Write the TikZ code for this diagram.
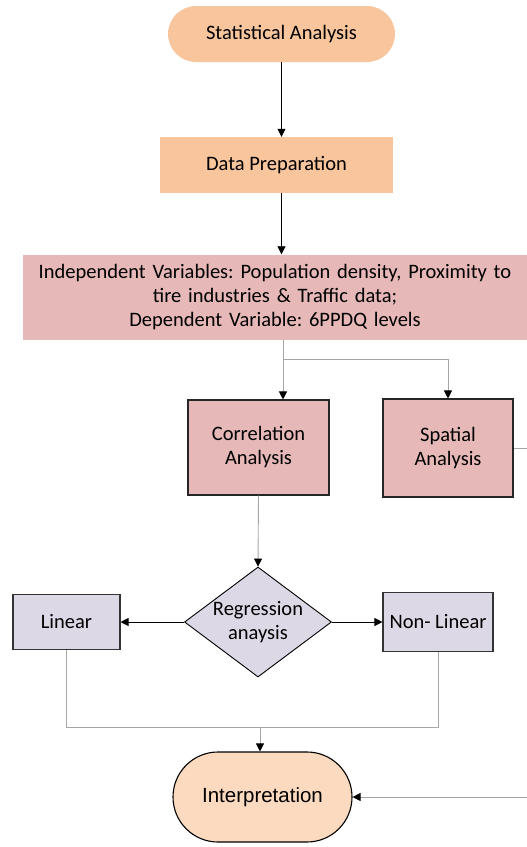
\documentclass[tikz,border=0pt]{standalone}
\usepackage{fontspec}
\setmainfont{Carlito}
\newfontfamily\arialf{Liberation Sans}
\usetikzlibrary{shapes.geometric,arrows.meta}
\frenchspacing
\definecolor{peach}{HTML}{F8C59D}
\definecolor{peachlight}{HTML}{FBDABF}
\definecolor{rose}{HTML}{E6B9B8}
\definecolor{lav}{HTML}{DDD8E6}
\definecolor{conn}{HTML}{A6A6A6}
\tikzset{
  base/.style={font=\fontsize{20.5}{24}\selectfont, align=center, inner sep=0pt},
  pill/.style={base, fill=peach, rounded corners=28, minimum width=227, minimum height=56},
  prep/.style={base, fill=peach, minimum width=233, minimum height=56},
  vars/.style={base, fill=rose, minimum width=504, minimum height=85, text width=500},
  anbox/.style={base, fill=rose, draw=black!85, line width=1.1, minimum height=96},
  regbox/.style={base, fill=lav, draw=black!80, line width=1.1},
  decide/.style={base, diamond, fill=lav, draw=black, line width=0.9, minimum width=147, minimum height=110, aspect=1.336},
  endpill/.style={font=\arialf\fontsize{20.5}{24}\selectfont, fill=peachlight, draw=black, line width=1.1, rounded corners=45, minimum width=179, minimum height=90, inner sep=0pt},
  blk/.style={draw=black, line width=0.8, -{Triangle[length=8,width=8]}},
  gry/.style={draw=conn, line width=0.9},
  gryarr/.style={draw=conn, line width=0.9, -{Triangle[length=8,width=8,fill=black,color=black]}},
}
\begin{document}
\begin{tikzpicture}[x=1pt,y=-1pt]
\useasboundingbox (0,0) rectangle (527,847);
\node[pill] (sa) at (281.5,34) {Statistical Analysis};
\node[prep] (dp) at (276.5,165) {Data Preparation};
\node[vars] (iv) at (275,297) {Independent Variables: Population density, Proximity to\\ tire industries \& Traffic data;\\ Dependent Variable: 6PPDQ levels};
\node[anbox, minimum width=141, minimum height=95] (ca) at (258.5,447.5) {Correlation\\Analysis};
\node[anbox, minimum width=130, minimum height=98] (sp) at (448,448) {Spatial\\Analysis};
\node[decide] (ra) at (258,622) {Regression\\anaysis};
\node[regbox, minimum width=107, minimum height=55] (li) at (66.5,622) {Linear};
\node[regbox, minimum width=110, minimum height=59] (nl) at (438,622) {Non- Linear};
\node[endpill] (ip) at (262.5,797) {Interpretation};
\coordinate (split) at (283,359);
\coordinate (join) at (260,727);
\coordinate (edgeA) at (527,448);
\coordinate (edgeB) at (527,797);
\draw[blk] (sa.south) -- (sa.south |- dp.north);
\draw[blk] (dp.south -| sa.south) -- (sa.south |- iv.north);
\draw[gry] (iv.south -| split) -- (split) -- (split -| sp.north);
\draw[gryarr] (split) -- (split |- ca.north);
\draw[gryarr] (split -| sp.north) -- (sp.north);
\draw[gryarr] (ca.south) -- (ra.north);
\draw[blk] (ra.west) -- (li.east);
\draw[blk] (ra.east) -- (nl.west);
\draw[gry] (li.south) -- (li.south |- join) -- (nl.south |- join) -- (nl.south);
\draw[gryarr] (join) -- (join |- ip.north);
\draw[gry] (sp.east) -- (edgeA);
\draw[gryarr] (edgeB) -- (ip.east);
\end{tikzpicture}
\end{document}
